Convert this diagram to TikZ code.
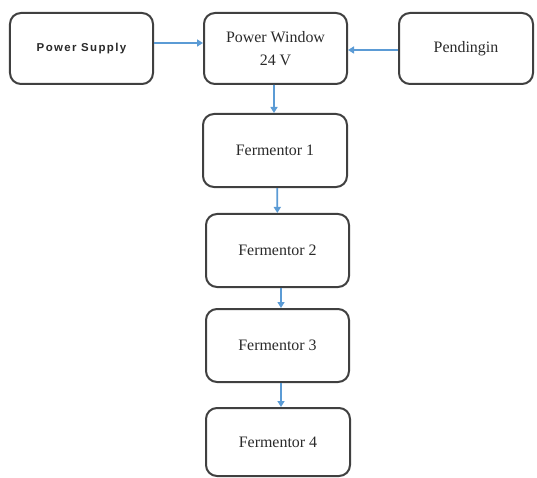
\documentclass[tikz,border=0pt]{standalone}
\usepackage{fontspec}
\setmainfont{Liberation Serif}
\newfontfamily\seriffont{Liberation Serif}
\newfontfamily\psfont{Liberation Sans}[LetterSpace=12]
\usetikzlibrary{arrows.meta}
\definecolor{boxline}{HTML}{404040}
\definecolor{arrblue}{HTML}{5B9BD5}
\definecolor{txt}{HTML}{2A2A2A}
\tikzset{
  blk/.style={draw=boxline, line width=2bp, rounded corners=11bp, fill=white,
    text=txt, align=center, font=\seriffont\fontsize{16}{23}\selectfont, inner sep=0pt},
  arr/.style={draw=arrblue, line width=1.7bp, -{Triangle[length=6bp,width=7bp]}}
}
\begin{document}
\begin{tikzpicture}[x=1bp,y=-1bp]
\useasboundingbox (0,0) rectangle (537,478);
\node[blk, minimum width=143bp, minimum height=71bp] (ps) at (81.5,48.5)
  {\psfont\bfseries\fontsize{11.5}{13}\selectfont Power Supply};
\node[blk, minimum width=143bp, minimum height=71bp] (pw) at (275.5,48.5)
  {Power Window\\24 V};
\node[blk, minimum width=134bp, minimum height=71bp] (pd) at (466,48.5) {Pendingin};
\node[blk, minimum width=144bp, minimum height=73bp] (f1) at (275,150.5) {Fermentor 1};
\node[blk, minimum width=143bp, minimum height=73bp] (f2) at (277.5,250.5) {Fermentor 2};
\node[blk, minimum width=143bp, minimum height=73bp] (f3) at (277.5,345.5) {Fermentor 3};
\node[blk, minimum width=144bp, minimum height=68bp] (f4) at (278,442) {Fermentor 4};
\draw[arr] ([yshift=5.5bp]ps.east) -- ([yshift=5.5bp]pw.west);
\draw[arr] ([yshift=-1.5bp]pd.west) -- ([yshift=-1.5bp]pw.east);
\draw[arr] ([xshift=-1.5bp]pw.south) -- ([xshift=-1bp]f1.north);
\draw[arr] ([xshift=2.3bp]f1.south) -- ([xshift=-0.2bp]f2.north);
\draw[arr] ([xshift=3.5bp]f2.south) -- ([xshift=3.5bp]f3.north);
\draw[arr] ([xshift=3.5bp]f3.south) -- ([xshift=3bp]f4.north);
\end{tikzpicture}
\end{document}
